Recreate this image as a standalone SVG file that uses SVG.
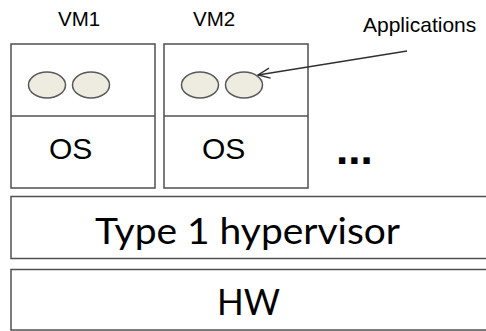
<svg xmlns="http://www.w3.org/2000/svg" width="486" height="331" viewBox="0 0 486 331">
<defs>
<style>
.box{fill:#ffffff;stroke:#505050;stroke-width:1.5}
.app{fill:#eeece1;stroke:#595959;stroke-width:1.5}
.lbl{font-family:"Liberation Sans",Arial,sans-serif;fill:#000}
.big{font-family:Lato,"Open Sans",sans-serif;fill:#000;text-anchor:middle}
.conn{fill:none;stroke:#303030;stroke-width:1.3}
</style>
<marker id="open" markerUnits="userSpaceOnUse" markerWidth="14" markerHeight="12" viewBox="0 0 14 12" refX="13" refY="6" orient="auto">
<path d="M1,1 L13,6 L1,11" fill="none" stroke="#303030" stroke-width="1.3"/>
</marker>
</defs>
<rect width="486" height="331" fill="#ffffff"/>

<g id="vm1">
<text class="lbl" x="58" y="26" font-size="20.5">VM1</text>
<rect class="box" x="11" y="44" width="144" height="144"/>
<line x1="11" y1="116" x2="155" y2="116" stroke="#505050" stroke-width="1.5"/>
<ellipse class="app" cx="47" cy="85" rx="18.5" ry="13"/>
<ellipse class="app" cx="91" cy="85" rx="18.5" ry="13"/>
<text class="lbl" x="49" y="159" font-size="30">OS</text>
</g>

<g id="vm2">
<text class="lbl" x="193" y="26" font-size="20.5">VM2</text>
<rect class="box" x="164" y="44" width="144" height="144"/>
<line x1="164" y1="116" x2="308" y2="116" stroke="#505050" stroke-width="1.5"/>
<ellipse class="app" cx="200" cy="85" rx="18.5" ry="13"/>
<ellipse class="app" cx="244" cy="85" rx="18.5" ry="13"/>
<text class="lbl" x="202" y="159" font-size="30">OS</text>
</g>

<g id="more">
<text class="lbl" x="336" y="164" font-size="44" font-weight="bold">...</text>
</g>

<g id="applications">
<text class="lbl" x="363" y="32" font-size="21">Applications</text>
</g>

<g id="hypervisor">
<rect class="box" x="11" y="196.5" width="480" height="62"/>
<text class="big" x="247.5" y="243.5" font-size="37" textLength="305" lengthAdjust="spacingAndGlyphs">Type 1 hypervisor</text>
</g>

<g id="hw">
<rect class="box" x="11" y="269.5" width="480" height="60.5"/>
<text class="big" x="248.5" y="314.5" font-size="37" textLength="63" lengthAdjust="spacingAndGlyphs">HW</text>
</g>

<g id="connectors">
<line class="conn" x1="407" y1="51" x2="258" y2="75" marker-end="url(#open)"/>
</g>
</svg>
